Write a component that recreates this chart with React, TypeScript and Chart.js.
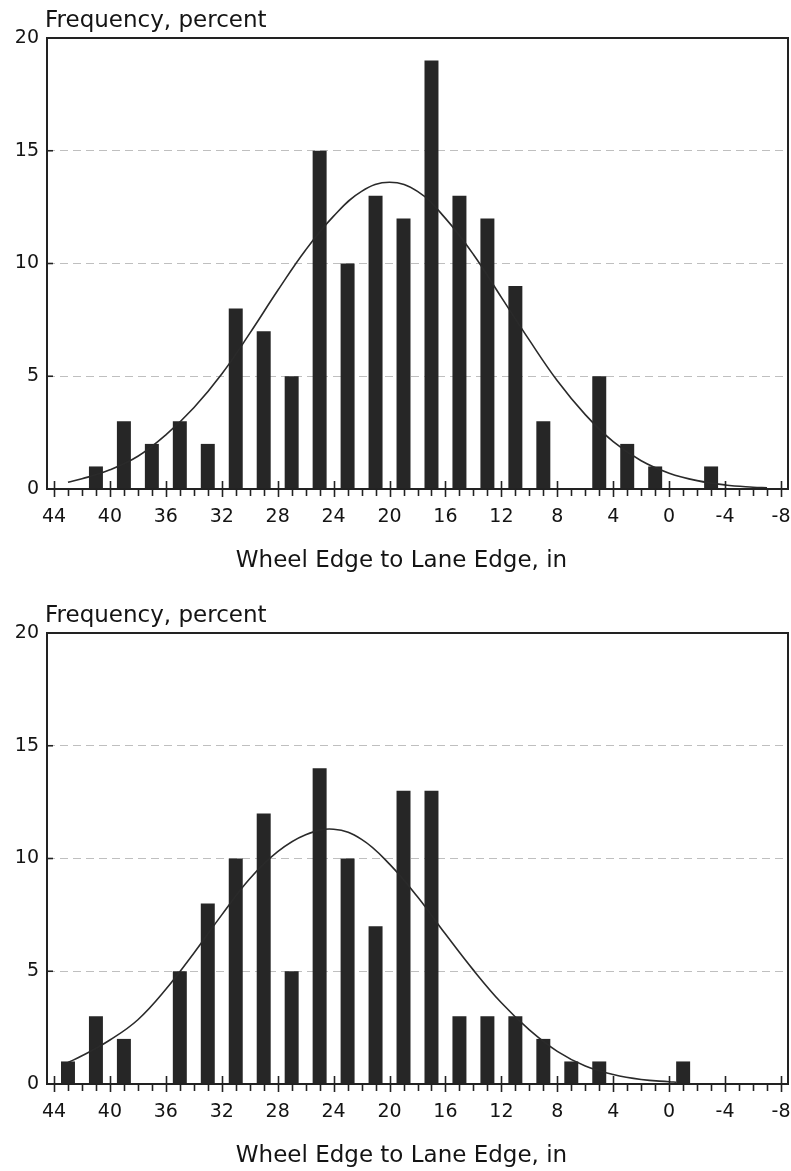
import React, { useEffect, useRef } from "react";
import { Chart, registerables } from "chart.js";

Chart.register(...registerables);

// ---------- data ----------
const BINS_TOP = [41, 39, 37, 35, 33, 31, 29, 27, 25, 23, 21, 19, 17, 15, 13, 11, 9, 7, 5, 3, 1, -1, -3];
const FREQ_TOP = [1, 3, 2, 3, 2, 8, 7, 5, 15, 10, 13, 12, 19, 13, 12, 9, 3, 0, 5, 2, 1, 0, 1];

const BINS_BOTTOM = [43, 41, 39, 37, 35, 33, 31, 29, 27, 25, 23, 21, 19, 17, 15, 13, 11, 9, 7, 5, 3, 1, -1];
const FREQ_BOTTOM = [1, 3, 2, 0, 5, 8, 10, 12, 5, 14, 10, 7, 13, 13, 3, 3, 3, 2, 1, 1, 0, 0, 1];

const CURVE_TOP_X = [43, 42, 40, 38, 36, 34, 32, 30, 28, 26, 24, 22, 20, 18, 16, 14, 12, 10, 8, 6, 4, 2, 0, -2, -4, -6, -7];
const CURVE_TOP_Y = [0.3, 0.45, 0.85, 1.45, 2.4, 3.6, 5.1, 6.9, 8.8, 10.6, 12.1, 13.2, 13.6, 13.2, 12.0, 10.4, 8.5, 6.6, 4.8, 3.3, 2.1, 1.25, 0.7, 0.37, 0.18, 0.08, 0.05];

const CURVE_BOTTOM_X = [43, 42, 40, 38, 36, 34, 32, 30, 28, 26, 24, 22, 20, 18, 16, 14, 12, 10, 8, 6, 4, 2, 0, -0.5];
const CURVE_BOTTOM_Y = [0.95, 1.25, 1.95, 2.85, 4.2, 5.8, 7.5, 9.1, 10.3, 11.05, 11.3, 10.85, 9.75, 8.3, 6.65, 5.05, 3.6, 2.4, 1.45, 0.8, 0.42, 0.2, 0.1, 0.08];

const X_TICKS = [44, 40, 36, 32, 28, 24, 20, 16, 12, 8, 4, 0, -4, -8];
const Y_TICKS = [0, 5, 10, 15, 20];

const Y_TITLE = "Frequency, percent";
const X_TITLE = "Wheel Edge to Lane Edge, in";

// ---------- styling ----------
const FONT = "'DejaVu Sans', 'Liberation Sans', sans-serif";
const INK = "#141414";

const framePlugin = {
  id: "frame",
  afterDraw(chart: any) {
    const { ctx, chartArea: a, scales } = chart;
    const xs = scales.x;
    const ys = scales.y;
    ctx.save();
    ctx.strokeStyle = "#222";
    ctx.lineWidth = 2;
    ctx.strokeRect(a.left, a.top, a.right - a.left, a.bottom - a.top);

    ctx.lineWidth = 1.6;
    for (let v = Math.ceil(xs.min); v <= Math.floor(xs.max); v++) {
      const p = Math.round(xs.getPixelForValue(v)) + 0.5;
      const major = X_TICKS.includes(v);
      ctx.beginPath();
      ctx.moveTo(p, major ? a.bottom - 8 : a.bottom);
      ctx.lineTo(p, a.bottom + (major ? 8 : 7));
      ctx.stroke();
    }
    for (const v of Y_TICKS) {
      const p = ys.getPixelForValue(v);
      ctx.beginPath();
      ctx.moveTo(a.left, p);
      ctx.lineTo(a.left + 6, p);
      ctx.stroke();
    }

    ctx.fillStyle = INK;
    ctx.font = `23px ${FONT}`;
    ctx.textBaseline = "alphabetic";
    ctx.textAlign = "left";
    ctx.fillText(Y_TITLE, a.left - 2, a.top - 11);
    ctx.textAlign = "center";
    ctx.fillText(X_TITLE, (a.left + a.right) / 2 - 16, a.bottom + 78);
    ctx.restore();
  },
};

function makeConfig(bins: number[], freq: number[], cx: number[], cy: number[]): any {
  return {
    type: "bar",
    data: {
      datasets: [
        {
          type: "line",
          data: cx.map((x, i) => ({ x, y: cy[i] })),
          borderColor: "#2a2a2a",
          borderWidth: 1.6,
          pointRadius: 0,
          tension: 0.4,
          fill: false,
          order: 0,
        },
        {
          type: "bar",
          data: bins.map((x, i) => ({ x, y: freq[i] })),
          backgroundColor: "#262626",
          borderWidth: 0,
          barPercentage: 0.5,
          categoryPercentage: 1,
          order: 1,
        },
      ],
    },
    options: {
      animation: false,
      responsive: false,
      events: [],
      layout: { padding: { top: 38, right: 3, left: 0, bottom: 0 } },
      plugins: {
        legend: { display: false },
        tooltip: { enabled: false },
        title: { display: false },
      },
      scales: {
        x: {
          type: "linear",
          min: -8.5,
          max: 44.5,
          reverse: true,
          offset: false,
          afterBuildTicks: (s: any) => {
            s.ticks = X_TICKS.map((v) => ({ value: v }));
          },
          ticks: {
            callback: (v: any) => String(v),
            font: { family: FONT, size: 19 },
            color: INK,
            padding: 17,
            maxRotation: 0,
            autoSkip: false,
          },
          grid: { display: false, drawTicks: false },
          border: { display: false },
          title: { display: false },
          afterFit: (s: any) => {
            s.height = 87;
            s.paddingLeft = 0;
            s.paddingRight = 0;
          },
        },
        y: {
          type: "linear",
          min: 0,
          max: 20,
          afterBuildTicks: (s: any) => {
            s.ticks = Y_TICKS.map((v) => ({ value: v }));
          },
          ticks: {
            font: { family: FONT, size: 19 },
            color: INK,
            padding: 8,
          },
          grid: {
            drawTicks: false,
            lineWidth: 1,
            color: (c: any) =>
              c.tick && (c.tick.value === 0 || c.tick.value === 20) ? "rgba(0,0,0,0)" : "rgba(0,0,0,0.25)",
          },
          border: { display: false, dash: [8, 5] },
          afterFit: (s: any) => {
            s.width = 47;
            s.paddingTop = 0;
            s.paddingBottom = 0;
          },
        },
      },
    },
    plugins: [framePlugin],
  };
}

function HistChart(props: { bins: number[]; freq: number[]; cx: number[]; cy: number[]; top: number }) {
  const ref = useRef<HTMLCanvasElement | null>(null);
  useEffect(() => {
    if (!ref.current) return;
    const chart = new Chart(ref.current, makeConfig(props.bins, props.freq, props.cx, props.cy));
    return () => chart.destroy();
  }, []);
  return (
    <canvas
      ref={ref}
      width={791}
      height={576}
      style={{ position: "absolute", left: 0, top: props.top, width: 791, height: 576, display: "block" }}
    />
  );
}

export default function App() {
  return (
    <div
      style={{
        position: "absolute",
        left: 0,
        top: 0,
        width: 791,
        height: 1171,
        overflow: "hidden",
        background: "#ffffff",
      }}
    >
      <HistChart bins={BINS_TOP} freq={FREQ_TOP} cx={CURVE_TOP_X} cy={CURVE_TOP_Y} top={0} />
      <HistChart bins={BINS_BOTTOM} freq={FREQ_BOTTOM} cx={CURVE_BOTTOM_X} cy={CURVE_BOTTOM_Y} top={595} />
    </div>
  );
}
